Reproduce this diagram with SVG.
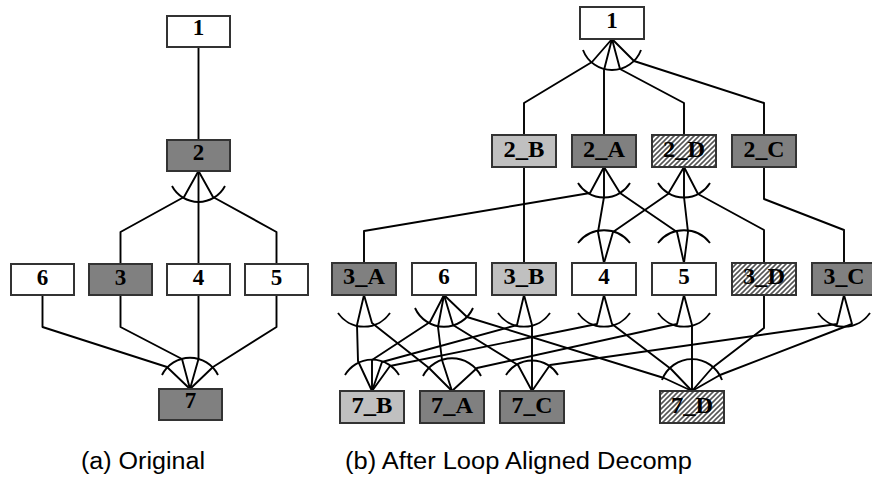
<svg xmlns="http://www.w3.org/2000/svg" width="872" height="478" viewBox="0 0 872 478">
  <defs>
    <pattern id="hatch" patternUnits="userSpaceOnUse" width="5" height="5">
      <rect width="5" height="5" fill="#ffffff"/>
      <path d="M-1,1 l2,-2 M0,5 l5,-5 M4,6 l2,-2" stroke="#555555" stroke-width="1.6"/>
    </pattern>
  </defs>
  <style>
    .box { stroke: #333333; stroke-width: 2; }
    .w { fill: #ffffff; }
    .dk { fill: #808080; }
    .lt { fill: #c0c0c0; }
    .ht { fill: url(#hatch); }
    .lbl { font-family: "Liberation Serif", "Times New Roman", serif; font-weight: bold; font-size: 23px; text-anchor: middle; fill: #000000; }
    .edge { fill: none; stroke: #000000; stroke-width: 1.9; stroke-linejoin: round; }
    .cap { font-family: "Liberation Sans", Arial, sans-serif; font-size: 23px; fill: #000000; }
  </style>
  <rect width="872" height="478" fill="#ffffff"/>

  <!-- connectors -->
  <g id="connectors" class="edge">
    <!-- (a) original graph -->
    <polyline points="198.5,47 198.5,140"/>
    <path d="M172,186 A30,30 0 0 0 225,186"/>
    <polyline points="198.5,171 184,197 120.5,232 120.5,264"/>
    <polyline points="198.5,171 198.5,264"/>
    <polyline points="198.5,171 213,197 276.5,232 276.5,264"/>
    <path d="M162,375 A31.3,31.3 0 0 1 218,375"/>
    <polyline points="42.5,295 42.5,327 167,367 190,389"/>
    <polyline points="120.5,295 120.5,327 182,359 190,389"/>
    <polyline points="198.5,295 198.5,359 190,389"/>
    <polyline points="276.5,295 276.5,327 213,367 190,389"/>

    <!-- (b) decomposed graph: fan arcs -->
    <path d="M583,50 A31,31 0 0 0 641,50"/>
    <path d="M578,183 A30.5,30.5 0 0 0 630,183"/>
    <path d="M658,183 A30.5,30.5 0 0 0 710,183"/>
    <path d="M578,243 A33,33 0 0 1 630,243"/>
    <path d="M658,243 A33,33 0 0 1 710,243"/>
    <path d="M338,313 A31.6,31.6 0 0 0 390,313"/>
    <path d="M415,308 A31.8,31.8 0 0 0 473,308"/>
    <path d="M498,313 A31.6,31.6 0 0 0 550,313"/>
    <path d="M578,313 A31.6,31.6 0 0 0 630,313"/>
    <path d="M658,313 A31.6,31.6 0 0 0 710,313"/>
    <path d="M818,313 A31.6,31.6 0 0 0 870,313"/>
    <path d="M345,375 A31.4,31.4 0 0 1 399,375"/>
    <path d="M423,376 A32.6,32.6 0 0 1 481,376"/>
    <path d="M506,375 A30.5,30.5 0 0 1 558,375"/>
    <path d="M662,380 A32,32 0 0 1 722,380"/>

    <!-- (b) edges -->
    <polyline points="612,39 592,62 524,103 524,135"/>
    <polyline points="612,39 604,70 604,135"/>
    <polyline points="612,39 620,69 684,103 684,135"/>
    <polyline points="612,39 634,61 764,103 764,135"/>
    <polyline points="524,167 524,263"/>
    <polyline points="764,167 764,199 844,230 844,263"/>
    <polyline points="604,167 590,193 364,231 364,263"/>
    <polyline points="604,167 604,197 598,232 604,263"/>
    <polyline points="604,167 620,193 677,232 684,263"/>
    <polyline points="684,167 668,194 613,232 604,263"/>
    <polyline points="684,167 684,197 688,232 684,263"/>
    <polyline points="684,167 698,194 764,230 764,263"/>
    <polyline points="364,295 357,325 358,361 372,391"/>
    <polyline points="364,295 372,323 429,368 452,391"/>
    <polyline points="444,295 430,322 372,360 372,391"/>
    <polyline points="444,295 438,327 442,360 452,391"/>
    <polyline points="444,295 453,325 518,365 532,391"/>
    <polyline points="444,295 467,317 664,378 692,391"/>
    <polyline points="524,295 517,325 382,362 372,391"/>
    <polyline points="524,295 532,325 532,391"/>
    <polyline points="604,295 597,324 390,366 372,391"/>
    <polyline points="604,295 612,324 671,369 692,391"/>
    <polyline points="684,295 677,324 477,368 452,391"/>
    <polyline points="684,295 692,325 692,391"/>
    <polyline points="764,295 764,328 712,368 692,391"/>
    <polyline points="844,295 837,324 550,365 532,391"/>
    <polyline points="844,295 852,324 720,375 692,391"/>
  </g>

  <!-- (a) nodes -->
  <g id="a1"><rect class="box w" x="167" y="16" width="63" height="31"/><text class="lbl" x="198.5" y="35">1</text></g>
  <g id="a2"><rect class="box dk" x="167" y="140" width="63" height="31"/><text class="lbl" x="198.5" y="160">2</text></g>
  <g id="a6"><rect class="box w" x="11" y="264" width="63" height="31"/><text class="lbl" x="42.5" y="285">6</text></g>
  <g id="a3"><rect class="box dk" x="89" y="264" width="63" height="31"/><text class="lbl" x="120.5" y="285">3</text></g>
  <g id="a4"><rect class="box w" x="167" y="264" width="63" height="31"/><text class="lbl" x="198.5" y="285">4</text></g>
  <g id="a5"><rect class="box w" x="245" y="264" width="63" height="31"/><text class="lbl" x="276.5" y="285">5</text></g>
  <g id="a7"><rect class="box dk" x="159" y="389" width="63" height="31"/><text class="lbl" x="190.5" y="408">7</text></g>

  <!-- (b) nodes -->
  <g id="b1"><rect class="box w" x="580" y="7" width="64" height="32"/><text class="lbl" x="612" y="28">1</text></g>
  <g id="b2B"><rect class="box lt" x="492" y="135" width="64" height="32"/><text class="lbl" x="524" y="157" textLength="41" lengthAdjust="spacingAndGlyphs">2_B</text></g>
  <g id="b2A"><rect class="box dk" x="572" y="135" width="64" height="32"/><text class="lbl" x="604" y="157" textLength="42" lengthAdjust="spacingAndGlyphs">2_A</text></g>
  <g id="b2D"><rect class="box ht" x="652" y="135" width="64" height="32"/><text class="lbl" x="684" y="157" textLength="42" lengthAdjust="spacingAndGlyphs">2_D</text></g>
  <g id="b2C"><rect class="box dk" x="732" y="135" width="64" height="32"/><text class="lbl" x="764" y="157" textLength="41" lengthAdjust="spacingAndGlyphs">2_C</text></g>
  <g id="b3A"><rect class="box dk" x="332" y="263" width="64" height="32"/><text class="lbl" x="364" y="284" textLength="42" lengthAdjust="spacingAndGlyphs">3_A</text></g>
  <g id="b6"><rect class="box w" x="412" y="263" width="64" height="32"/><text class="lbl" x="444" y="284">6</text></g>
  <g id="b3B"><rect class="box lt" x="492" y="263" width="64" height="32"/><text class="lbl" x="524" y="284" textLength="41" lengthAdjust="spacingAndGlyphs">3_B</text></g>
  <g id="b4"><rect class="box w" x="572" y="263" width="64" height="32"/><text class="lbl" x="604" y="284">4</text></g>
  <g id="b5"><rect class="box w" x="652" y="263" width="64" height="32"/><text class="lbl" x="684" y="284">5</text></g>
  <g id="b3D"><rect class="box ht" x="732" y="263" width="64" height="32"/><text class="lbl" x="764" y="284" textLength="42" lengthAdjust="spacingAndGlyphs">3_D</text></g>
  <g id="b3C"><rect class="box dk" x="812" y="263" width="64" height="32"/><text class="lbl" x="844" y="284" textLength="41" lengthAdjust="spacingAndGlyphs">3_C</text></g>
  <g id="b7B"><rect class="box lt" x="340" y="391" width="64" height="32"/><text class="lbl" x="372" y="413" textLength="41" lengthAdjust="spacingAndGlyphs">7_B</text></g>
  <g id="b7A"><rect class="box dk" x="420" y="391" width="64" height="32"/><text class="lbl" x="452" y="413" textLength="42" lengthAdjust="spacingAndGlyphs">7_A</text></g>
  <g id="b7C"><rect class="box dk" x="500" y="391" width="64" height="32"/><text class="lbl" x="532" y="413" textLength="41" lengthAdjust="spacingAndGlyphs">7_C</text></g>
  <g id="b7D"><rect class="box ht" x="660" y="391" width="64" height="32"/><text class="lbl" x="692" y="413" textLength="42" lengthAdjust="spacingAndGlyphs">7_D</text></g>

  <!-- captions -->
  <text class="cap" x="81" y="469" textLength="124" lengthAdjust="spacingAndGlyphs">(a) Original</text>
  <text class="cap" x="345" y="469" textLength="347" lengthAdjust="spacingAndGlyphs">(b) After Loop Aligned Decomp</text>
</svg>
